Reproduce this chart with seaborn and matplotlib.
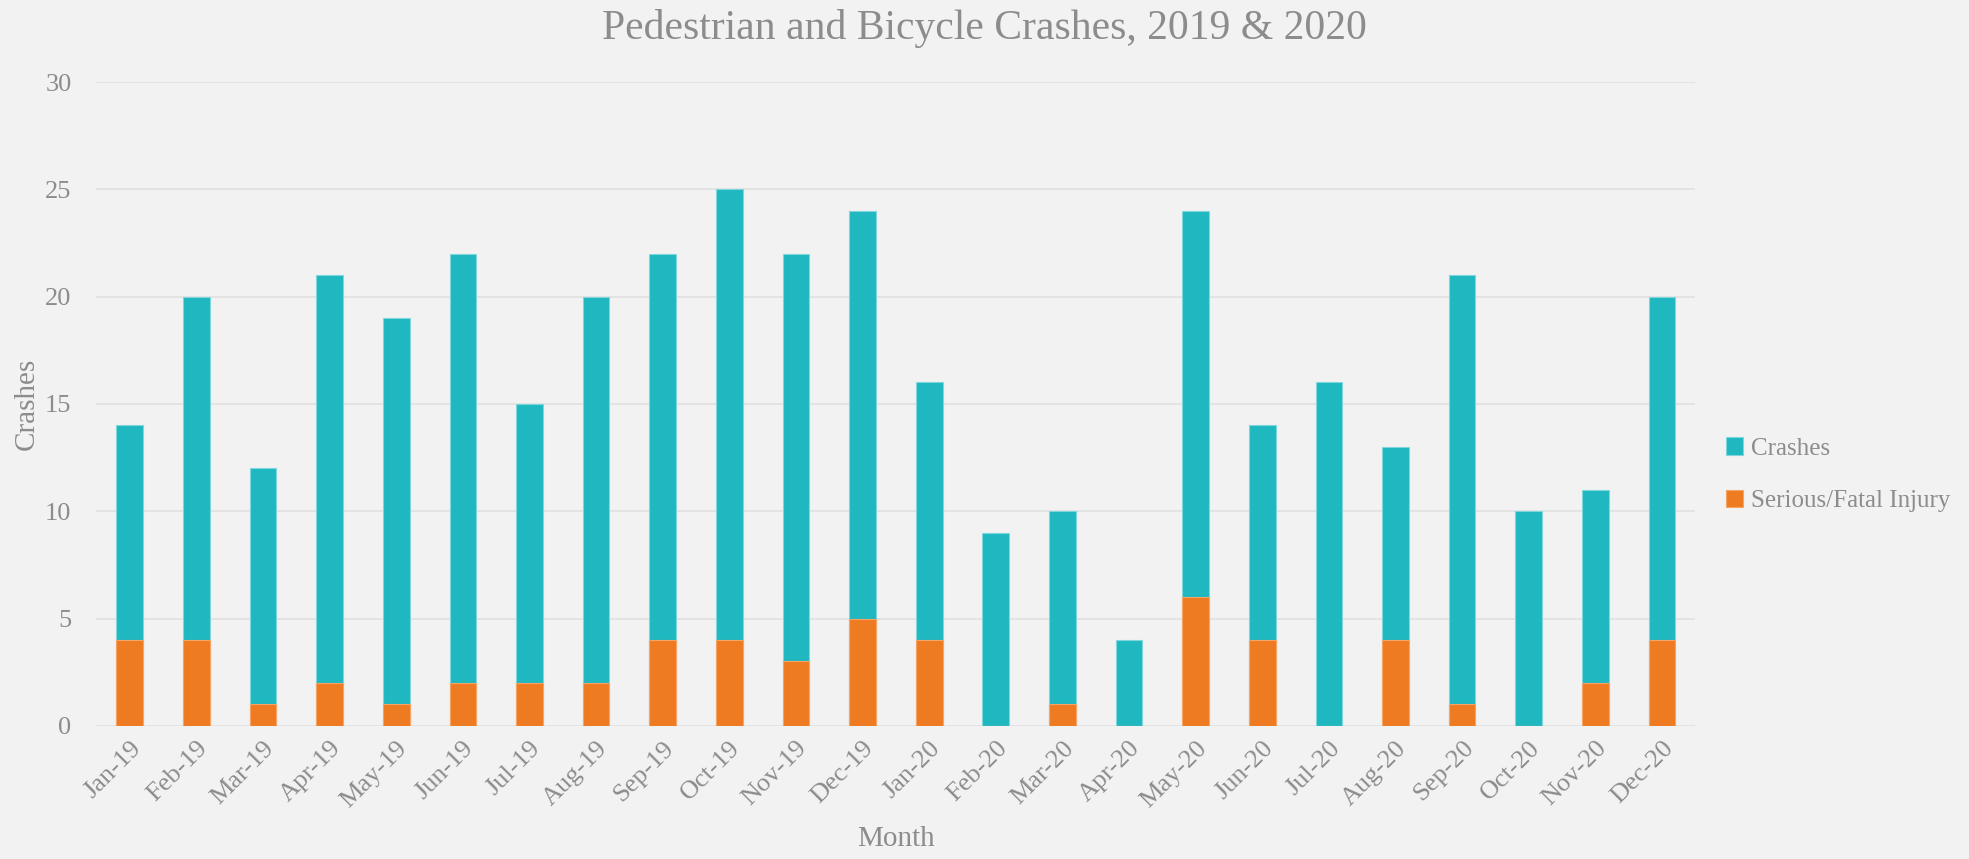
import matplotlib
matplotlib.use("Agg")
import matplotlib.pyplot as plt
import seaborn as sns
import pandas as pd

months = ["Jan-19", "Feb-19", "Mar-19", "Apr-19", "May-19", "Jun-19",
          "Jul-19", "Aug-19", "Sep-19", "Oct-19", "Nov-19", "Dec-19",
          "Jan-20", "Feb-20", "Mar-20", "Apr-20", "May-20", "Jun-20",
          "Jul-20", "Aug-20", "Sep-20", "Oct-20", "Nov-20", "Dec-20"]
crashes = [14, 20, 12, 21, 19, 22, 15, 20, 22, 25, 22, 24,
           16, 9, 10, 4, 24, 14, 16, 13, 21, 10, 11, 20]
serious = [4, 4, 1, 2, 1, 2, 2, 2, 4, 4, 3, 5,
           4, 0, 1, 0, 6, 4, 0, 4, 1, 0, 2, 4]

df = pd.DataFrame({"Month": months, "Crashes": crashes, "Serious": serious})

bg = "#f2f2f2"
text_col = "#8c8c8c"
teal = "#1fb8c1"
orange = "#ee7b22"

sns.set_style("whitegrid")
plt.rcParams["font.family"] = ["Liberation Serif", "DejaVu Serif"]

fig = plt.figure(figsize=(19.69, 8.59), dpi=100, facecolor=bg)
ax = fig.add_axes([0.049, 0.155, 0.812, 0.7495], facecolor=bg)

sns.barplot(data=df, x="Month", y="Crashes", color=teal, width=0.4,
            saturation=1, ax=ax, label="Crashes",
            edgecolor="#7fd6db", linewidth=0.8)
sns.barplot(data=df, x="Month", y="Serious", color=orange, width=0.4,
            saturation=1, ax=ax, label="Serious/Fatal Injury",
            edgecolor="#f5a463", linewidth=0.8)

ax.set_ylim(0, 30)
ax.set_xlim(-0.5, len(months) - 0.5)
ax.set_yticks(range(0, 31, 5))
ax.grid(axis="y", color="#e0e0e0", linewidth=1.2)
ax.grid(axis="x", visible=False)
ax.set_axisbelow(True)
for s in ax.spines.values():
    s.set_visible(False)
ax.tick_params(axis="both", length=0, labelsize=19, labelcolor=text_col)
ax.tick_params(axis="y", pad=18)
ax.tick_params(axis="x", pad=8)
plt.setp(ax.get_xticklabels(), rotation=45, ha="right", rotation_mode="anchor")

ax.set_xlabel("Month", fontsize=21, color=text_col, labelpad=10)
ax.set_ylabel("Crashes", fontsize=21, color=text_col, labelpad=4)
fig.suptitle("Pedestrian and Bicycle Crashes, 2019 & 2020", fontsize=30,
             color=text_col, y=0.99)

leg = ax.legend(loc="center left", bbox_to_anchor=(1.005, 0.39), frameon=False,
                fontsize=18, labelcolor=text_col, handlelength=0.7,
                handleheight=0.7, handletextpad=0.3, labelspacing=1.2)

fig.savefig("out.png", dpi=100, facecolor=bg)
